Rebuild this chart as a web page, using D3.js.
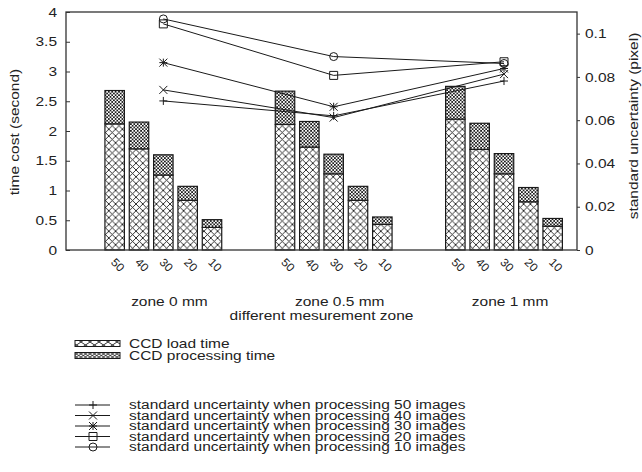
<!DOCTYPE html>
<html>
<head>
<meta charset="utf-8">
<script src="https://cdn.jsdelivr.net/npm/d3@7"></script>
<style>
  body { margin: 0; background: #fff; }
  svg text { font-family: "Liberation Sans", Arial, Helvetica, sans-serif; fill: #222; }
</style>
</head>
<body>
<svg id="chart" width="642" height="472"></svg>
<script>
// ---- data ----
const zones = ["zone 0 mm", "zone 0.5 mm", "zone 1 mm"];
const imageCounts = ["50", "40", "30", "20", "10"];

// CCD load time (second), per zone, for 50/40/30/20/10 images
const loadZone0   = [2.12, 1.70, 1.26, 0.835, 0.38];
const loadZone05  = [2.11, 1.73, 1.28, 0.835, 0.43];
const loadZone1   = [2.20, 1.69, 1.28, 0.81, 0.40];
// CCD processing time (second), stacked on top of the load time
const procZone0   = [0.56, 0.45, 0.34, 0.235, 0.13];
const procZone05  = [0.56, 0.43, 0.33, 0.235, 0.125];
const procZone1   = [0.55, 0.44, 0.34, 0.24, 0.13];

// standard uncertainty (pixel) per zone
const unc50 = [0.0689, 0.0620, 0.0781];
const unc40 = [0.0740, 0.0612, 0.0813];
const unc30 = [0.0866, 0.0662, 0.0839];
const unc20 = [0.1045, 0.0807, 0.0870];
const unc10 = [0.1068, 0.0894, 0.0862];

const leftTicks  = [0, 0.5, 1, 1.5, 2, 2.5, 3, 3.5, 4];
const rightTicks = [0, 0.02, 0.04, 0.06, 0.08, 0.1];

const loadByZone = [loadZone0, loadZone05, loadZone1];
const procByZone = [procZone0, procZone05, procZone1];
const uncSeries = [
  { name: "standard uncertainty when processing 50 images", values: unc50, symbol: "plus" },
  { name: "standard uncertainty when processing 40 images", values: unc40, symbol: "cross" },
  { name: "standard uncertainty when processing 30 images", values: unc30, symbol: "star" },
  { name: "standard uncertainty when processing 20 images", values: unc20, symbol: "square" },
  { name: "standard uncertainty when processing 10 images", values: unc10, symbol: "circle" }
];

// ---- layout ----
const svg = d3.select("#chart");
const plot = { left: 66, right: 577, top: 12, bottom: 250 };
const groupStride = 7;   // 5 bars + 2 empty slots between zones
const barFrac = 0.8;
const FS = 13;           // base font size
const WIDE = 1.19;       // horizontal widening of the lettering

const x = d3.scaleLinear().domain([-2, 19]).range([plot.left, plot.right]);
const yL = d3.scaleLinear().domain([0, 4]).range([plot.bottom, plot.top]);
const yR = d3.scaleLinear().domain([0, 0.11]).range([plot.bottom, plot.top]);
const ink = "#1a1a1a";

// ---- hatch patterns ----
const defs = svg.append("defs");
function hatch(id, w, h, sw) {
  const p = defs.append("pattern").attr("id", id)
    .attr("patternUnits", "userSpaceOnUse").attr("width", w).attr("height", h);
  p.append("rect").attr("width", w).attr("height", h).attr("fill", "#fff");
  p.append("path")
    .attr("d", `M${-w / 2},${-h / 2}L${w * 1.5},${h * 1.5}M${w * 1.5},${-h / 2}L${-w / 2},${h * 1.5}`)
    .attr("stroke", ink).attr("stroke-width", sw).attr("fill", "none");
}
hatch("hLoad", 6.8, 6.8, 0.9);
hatch("hProc", 3.4, 3.4, 0.85);
hatch("hLoadKey", 9, 6, 0.9);
hatch("hProcKey", 4.5, 3, 0.8);

// ---- bars ----
const bw = x(barFrac) - x(0);
const bars = [];
zones.forEach((z, g) => {
  imageCounts.forEach((c, i) => {
    bars.push({ u: g * groupStride + i, load: loadByZone[g][i], proc: procByZone[g][i], label: c });
  });
});

const barG = svg.append("g");
barG.selectAll("rect.load").data(bars).join("rect")
  .attr("class", "load")
  .attr("x", d => x(d.u) - bw / 2).attr("width", bw)
  .attr("y", d => yL(d.load)).attr("height", d => yL(0) - yL(d.load))
  .attr("fill", "url(#hLoad)").attr("stroke", ink).attr("stroke-width", 1.2);
barG.selectAll("rect.proc").data(bars).join("rect")
  .attr("class", "proc")
  .attr("x", d => x(d.u) - bw / 2).attr("width", bw)
  .attr("y", d => yL(d.load + d.proc)).attr("height", d => yL(d.load) - yL(d.load + d.proc))
  .attr("fill", "url(#hProc)").attr("stroke", ink).attr("stroke-width", 1.2);

// rotated image-count labels
svg.append("g").selectAll("text").data(bars).join("text")
  .attr("transform", d => `translate(${x(d.u) - 4.5},${plot.bottom + 13}) rotate(45)`)
  .attr("font-size", 11.5).attr("data-wide", 1.05)
  .text(d => d.label);

// zone labels
svg.append("g").selectAll("text").data(zones).join("text")
  .attr("x", (d, g) => x(g * groupStride + 2.25)).attr("y", 306)
  .attr("text-anchor", "middle").attr("font-size", FS)
  .text(d => d);

svg.append("text").attr("x", (plot.left + plot.right) / 2).attr("y", 320)
  .attr("text-anchor", "middle").attr("font-size", FS)
  .text("different mesurement zone");

// ---- uncertainty lines ----
function symbolPath(type, cx, cy, r) {
  switch (type) {
    case "plus":  return `M${cx - r},${cy}H${cx + r}M${cx},${cy - r}V${cy + r}`;
    case "cross": return `M${cx - r},${cy - r}L${cx + r},${cy + r}M${cx + r},${cy - r}L${cx - r},${cy + r}`;
    case "star":  return symbolPath("plus", cx, cy, r) + symbolPath("cross", cx, cy, r);
    case "square": return `M${cx - r},${cy - r}H${cx + r}V${cy + r}H${cx - r}Z`;
    case "circle": return `M${cx - r},${cy}A${r},${r} 0 1 0 ${cx + r},${cy}A${r},${r} 0 1 0 ${cx - r},${cy}Z`;
  }
}
const line = d3.line().x((d, g) => x(g * groupStride + 2)).y(d => yR(d));
const lineG = svg.append("g");
uncSeries.forEach(s => {
  lineG.append("path").attr("d", line(s.values))
    .attr("fill", "none").attr("stroke", ink).attr("stroke-width", 1);
  lineG.selectAll(null).data(s.values).join("path")
    .attr("d", (d, g) => symbolPath(s.symbol, x(g * groupStride + 2), yR(d), 4))
    .attr("fill", "none").attr("stroke", ink).attr("stroke-width", 1);
});

// ---- axes ----
const axL = svg.append("g").attr("transform", `translate(${plot.left},0)`)
  .call(d3.axisLeft(yL).tickValues(leftTicks).tickFormat(d => String(d))
    .tickSizeInner(-4).tickSizeOuter(0).tickPadding(9));
const axR = svg.append("g").attr("transform", `translate(${plot.right},0)`)
  .call(d3.axisRight(yR).tickValues(rightTicks).tickFormat(d => String(+d.toFixed(2)))
    .tickSizeInner(3).tickSizeOuter(0).tickPadding(5));
[axL, axR].forEach(a => {
  a.select(".domain").remove();
  a.selectAll(".tick line").attr("stroke", "#333");
  a.selectAll(".tick text").attr("font-size", FS).attr("font-family", null).attr("fill", "#222");
});
svg.append("rect")
  .attr("x", plot.left).attr("y", plot.top)
  .attr("width", plot.right - plot.left).attr("height", plot.bottom - plot.top)
  .attr("fill", "none").attr("stroke", "#333").attr("stroke-width", 1.3);

svg.append("text")
  .attr("transform", `translate(19,132) rotate(-90)`)
  .attr("text-anchor", "middle").attr("font-size", FS)
  .text("time cost (second)");
svg.append("text")
  .attr("transform", `translate(638,126) rotate(-90)`)
  .attr("text-anchor", "middle").attr("font-size", FS)
  .text("standard uncertainty (pixel)");

// ---- legend ----
const keyG = svg.append("g");
const barKeys = [
  { name: "CCD load time", fill: "url(#hLoadKey)", y: 343.5 },
  { name: "CCD processing time", fill: "url(#hProcKey)", y: 355.5 }
];
barKeys.forEach(k => {
  keyG.append("rect").attr("x", 75).attr("y", k.y - 3).attr("width", 45).attr("height", 6)
    .attr("fill", k.fill).attr("stroke", ink).attr("stroke-width", 1);
  keyG.append("text").attr("x", 129).attr("y", k.y).attr("dy", "0.35em")
    .attr("font-size", FS).text(k.name);
});
const lineKeyY = [405, 415.5, 426, 436.5, 447];
uncSeries.forEach((s, i) => {
  const yy = lineKeyY[i];
  keyG.append("path").attr("d", `M75,${yy}H110`).attr("stroke", ink).attr("stroke-width", 1);
  keyG.append("path").attr("d", symbolPath(s.symbol, 93, yy, 4))
    .attr("fill", "none").attr("stroke", ink).attr("stroke-width", 1);
  keyG.append("text").attr("x", 129).attr("y", yy).attr("dy", "0.35em")
    .attr("font-size", 12).attr("data-wide", 1.29).text(s.name);
});

// widen the lettering to the figure's broad Helvetica set
svg.selectAll("text").each(function () {
  const k = +(this.getAttribute("data-wide") || WIDE);
  const L = this.getComputedTextLength();
  this.setAttribute("textLength", (L * k).toFixed(2));
  this.setAttribute("lengthAdjust", "spacingAndGlyphs");
});
</script>
</body>
</html>
